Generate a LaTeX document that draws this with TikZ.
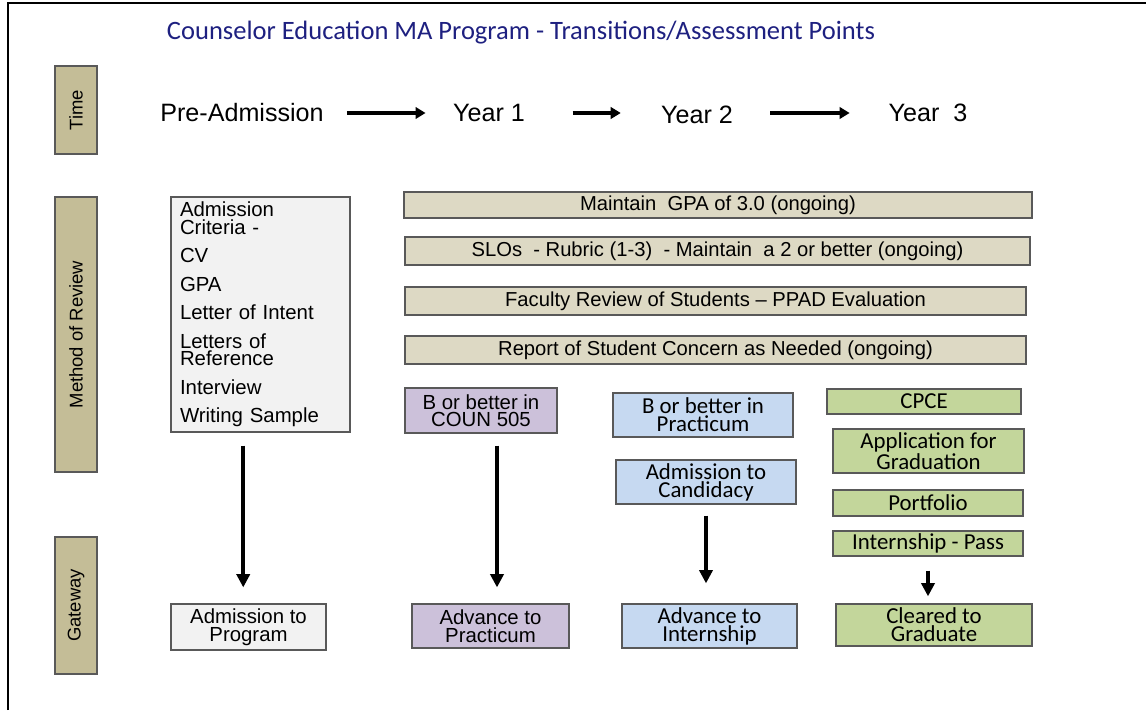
\documentclass[tikz,border=0pt]{standalone}
\usepackage{fontspec}
\setmainfont{Liberation Sans}
\newfontfamily\calibri{Carlito}
\usetikzlibrary{arrows.meta}
\definecolor{title-blue}{RGB}{30,32,128}
\definecolor{tan-dark}{RGB}{196,189,151}
\definecolor{tan-light}{RGB}{221,217,196}
\definecolor{box-gray}{RGB}{242,242,242}
\definecolor{box-purple}{RGB}{204,193,218}
\definecolor{box-blue}{RGB}{198,217,241}
\definecolor{box-green}{RGB}{195,214,155}
\definecolor{edge-gray}{RGB}{89,89,89}
\tikzset{wh/.style 2 args={minimum width=#1*0.02cm,minimum height=#2*0.02cm}} % sizes in reference pixels
\tikzstyle{sidelabel}=[draw=edge-gray,fill=tan-dark,line width=0.7pt,rotate=90,inner sep=0pt,font=\fontsize{10.5}{12}\selectfont]
\tikzstyle{timetext}=[inner sep=0pt,font=\fontsize{14.3}{16}\selectfont]
\tikzstyle{bar}=[draw=edge-gray,fill=tan-light,line width=0.7pt,inner sep=0pt,font=\fontsize{11.5}{12}\selectfont]
\tikzstyle{box}=[draw=edge-gray,line width=0.7pt,inner sep=0pt,align=center]
\tikzstyle{arialbox}=[box,font=\fontsize{11.6}{10}\selectfont]
\tikzstyle{calbox}=[box,font=\calibri\fontsize{13}{10.2}\selectfont]
\tikzstyle{timearrow}=[line width=1.9pt,-{Triangle[length=5.7pt,width=6.5pt]}]
\tikzstyle{gatearrow}=[line width=2.3pt,-{Triangle[length=7.5pt,width=7.4pt]}]

\begin{document}
\begin{tikzpicture}[x=0.02cm,y=-0.02cm]
	\useasboundingbox (0,0) rectangle (1146,710);
	% frame (top and left edge only)
	\draw[line width=1.2pt] (8,710) -- (8,3) -- (1146,3);
	\node[font=\calibri\fontsize{15.1}{18}\selectfont,text=title-blue] (title) at (521,33) {Counselor Education MA Program - Transitions/Assessment Points};
	% row labels
	\node[sidelabel,wh={88}{42}] (time) at (76,110) {Time};
	\node[sidelabel,wh={275}{42}] (review) at (76,334.5) {Method of Review};
	\node[sidelabel,wh={137}{42}] (gate) at (76,605.5) {Gateway};
	% time line
	\node[timetext] (pre) at (242,113) {Pre-Admission};
	\node[timetext] (yr1) at (489,113) {Year 1};
	\node[timetext] (yr2) at (697,115) {Year 2};
	\node[timetext] (yr3) at (928,113) {Year~~3};
	\draw[timearrow,shorten <=13pt,shorten >=15.5pt] (pre.east) -- (pre.east -| yr1.west);
	\draw[timearrow,shorten <=27pt,shorten >=22.8pt] (yr1.east) -- (yr1.east -| yr2.west);
	\draw[timearrow,shorten <=21pt,shorten >=22pt] (yr2.east |- yr3.west) -- (yr3.west);
	% method of review
	\node[arialbox,fill=box-gray,wh={179}{235},text width=161*0.02cm,align=left] (crit) at (260.5,314.5)
		{Admission\\Criteria -\\[6.2pt]CV\\[6.2pt]GPA\\[6.2pt]Letter of Intent\\[6.2pt]Letters of\\Reference\\[6.2pt]Interview\\[6.2pt]Writing Sample};
	\node[bar,wh={628}{26}] (gpa) at (718,205) {Maintain~~GPA of 3.0 (ongoing)};
	\node[bar,wh={625}{28}] (slo) at (717.5,251) {SLOs~~- Rubric (1-3)~~- Maintain~~a 2 or better (ongoing)};
	\node[bar,wh={621}{28}] (ppad) at (715.5,301) {Faculty Review of Students -- PPAD Evaluation};
	\node[bar,wh={621}{28}] (concern) at (715.5,350) {Report of Student Concern as Needed (ongoing)};
	\node[arialbox,fill=box-purple,wh={152}{45}] (coun) at (481,410.5) {B or better in\\COUN 505};
	\node[calbox,fill=box-blue,wh={180}{44}] (bprac) at (703,415) {B or better in\\Practicum};
	\node[calbox,fill=box-blue,wh={180}{44}] (cand) at (706,482) {Admission to\\Candidacy};
	\node[calbox,fill=box-green,wh={194}{25}] (cpce) at (924,401.5) {CPCE};
	\node[calbox,fill=box-green,wh={191}{44}] (appl) at (928.5,451) {Application for\\Graduation};
	\node[calbox,fill=box-green,wh={190}{26}] (port) at (928,503) {Portfolio};
	\node[calbox,fill=box-green,wh={190}{25}] (pass) at (928,543.5) {Internship - Pass};
	% gateways
	\node[arialbox,fill=box-gray,wh={155}{46}] (prog) at (248.5,627) {Admission to\\Program};
	\node[arialbox,fill=box-purple,wh={157}{44}] (advprac) at (490.5,626) {Advance to\\Practicum};
	\node[calbox,fill=box-blue,wh={175}{44}] (advint) at (709.5,626) {Advance to\\Internship};
	\node[calbox,fill=box-green,wh={196}{42}] (cleared) at (934,625) {Cleared to\\Graduate};
	\draw[gatearrow,shorten <=7.4pt,shorten >=9.1pt] ([xshift=-3pt]crit.south -| prog.north) -- ([xshift=-3pt]prog.north);
	\draw[gatearrow,shorten <=6.8pt,shorten >=9.1pt] ([xshift=3.7pt]coun.south -| advprac.north) -- ([xshift=3.7pt]advprac.north);
	\draw[gatearrow,shorten <=6.3pt,shorten >=11.4pt] (cand.south) -- (cand.south |- advint.north);
	\draw[gatearrow,shorten <=8pt,shorten >=4pt] (pass.south) -- (pass.south |- cleared.north);
\end{tikzpicture}
\end{document}
